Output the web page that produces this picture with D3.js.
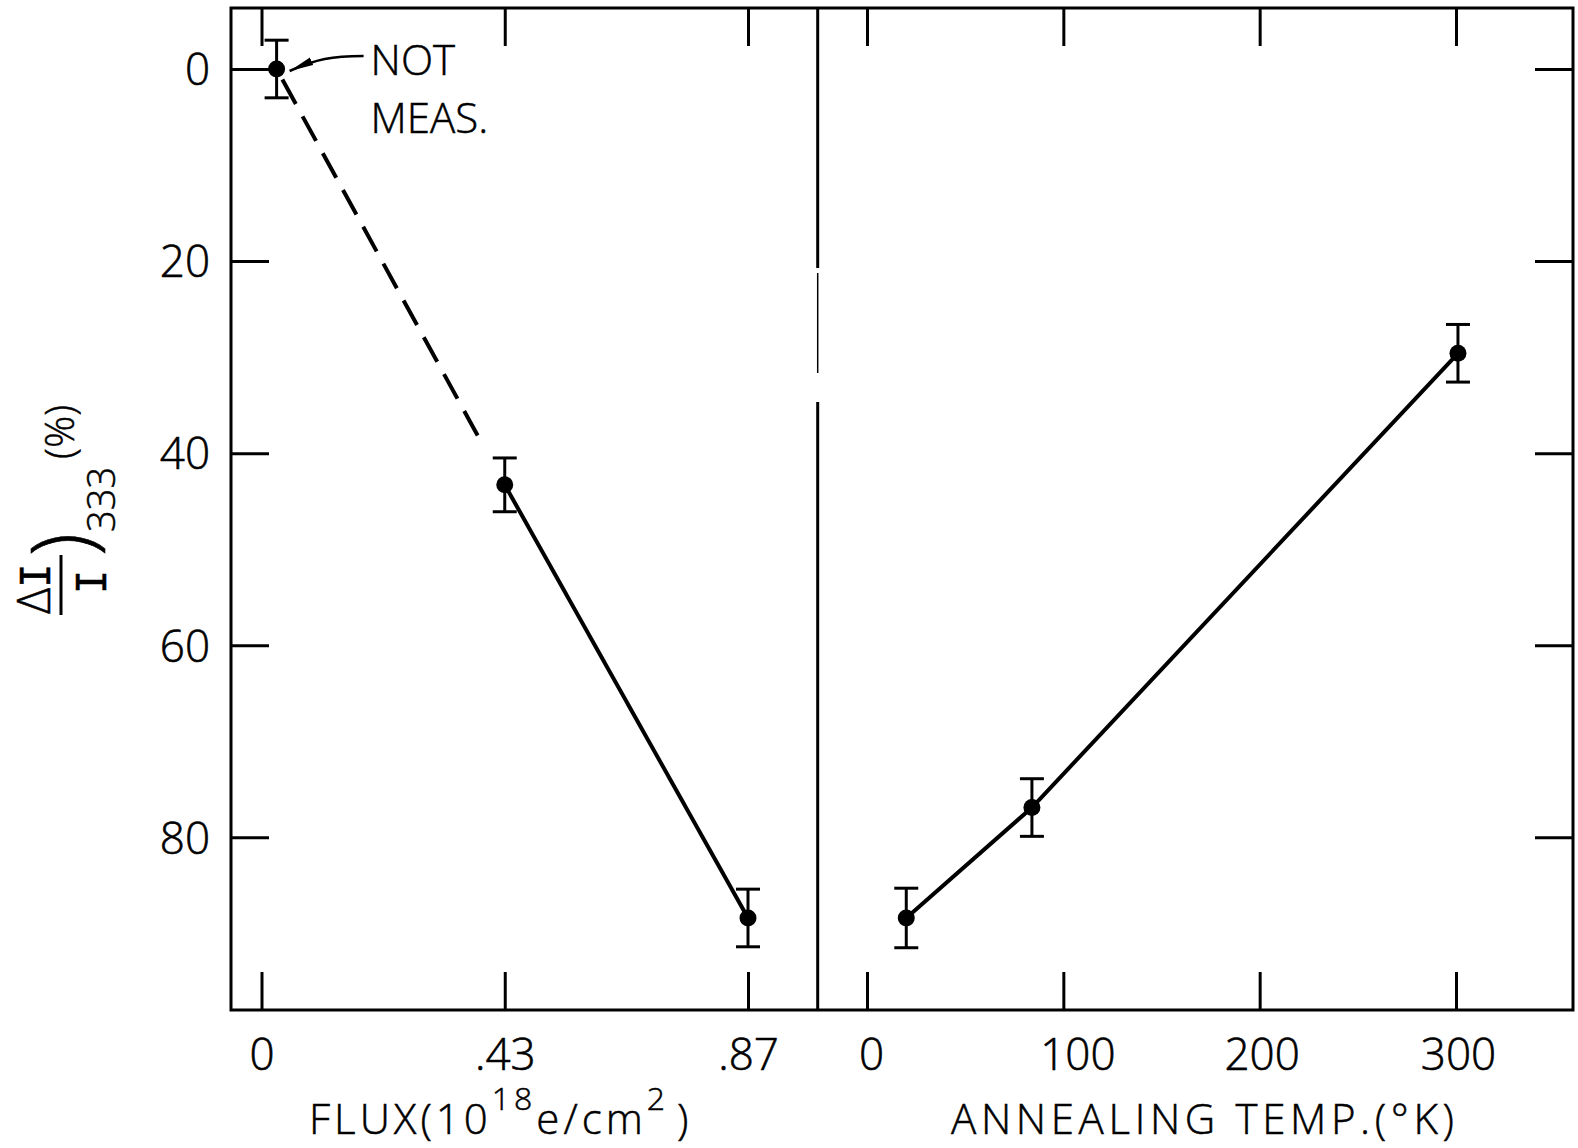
<!DOCTYPE html>
<html>
<head>
<meta charset="utf-8">
<script src="https://cdn.jsdelivr.net/npm/d3@7"></script>
<style>
  html, body { margin: 0; padding: 0; background: #fff; }
  svg { display: block; }
  text { font-family: "Open Sans", "DejaVu Sans", sans-serif; font-weight: 300; fill: #000; }
</style>
</head>
<body>
<svg id="chart" width="1578" height="1148"></svg>
<script>
// ---- data ----
const yTickValues = [0, 20, 40, 60, 80];
const fluxTickValues = [0, 0.435, 0.87];
const fluxTickLabels = ["0", ".43", ".87"];
const tempTickValues = [0, 100, 200, 300];
const tempTickLabels = ["0", "100", "200", "300"];

const fluxX = [0.027, 0.435, 0.87];
const fluxY = [0, 43.3, 88.4];
const fluxErr = [3, 2.8, 3];

const tempX = [20, 84, 301];
const tempY = [88.4, 76.9, 29.6];
const tempErr = [3.1, 3, 3];

// ---- layout ----
const svg = d3.select("#chart");
const frameLeft = 231, divider = 817.7, frameRight = 1573, frameTop = 8, frameBottom = 1010;
const tickLen = 38;

const y = d3.scaleLinear().domain([0, 80]).range([69, 837.3]);
const xFlux = d3.scaleLinear().domain([0, 0.87]).range([261.5, 748]);
const xTemp = d3.scaleLinear().domain([0, 300]).range([867, 1456]);

const ink = "#000";
const g = svg.append("g");

function styleAxis(sel) {
  sel.select(".domain").remove();
  sel.selectAll(".tick line").attr("stroke", ink).attr("stroke-width", 3);
  sel.selectAll(".tick text").style("font-size", "44px").attr("fill", ink)
    .attr("stroke", ink).attr("stroke-width", 0.6);
}

// left y axis
g.append("g").attr("transform", `translate(${frameLeft},0)`)
  .call(d3.axisLeft(y).tickValues(yTickValues).tickSize(-tickLen).tickPadding(21))
  .call(styleAxis)
  .selectAll(".tick text").attr("dy", "0.36em");

// right y axis (ticks only)
g.append("g").attr("transform", `translate(${frameRight},0)`)
  .call(d3.axisRight(y).tickValues(yTickValues).tickSize(-tickLen).tickFormat(""))
  .call(styleAxis);

// bottom axes
g.append("g").attr("transform", `translate(0,${frameBottom})`)
  .call(d3.axisBottom(xFlux).tickValues(fluxTickValues).tickSize(-tickLen).tickPadding(29)
    .tickFormat((d, i) => fluxTickLabels[i]))
  .call(styleAxis);
const tAx = g.append("g").attr("transform", `translate(0,${frameBottom})`)
  .call(d3.axisBottom(xTemp).tickValues(tempTickValues).tickSize(-tickLen).tickPadding(29)
    .tickFormat((d, i) => tempTickLabels[i]))
  .call(styleAxis);
tAx.selectAll(".tick text").attr("dx", d => d === 100 ? 14 : (d === 0 ? 4 : 2));

// top axes (ticks only)
g.append("g").attr("transform", `translate(0,${frameTop})`)
  .call(d3.axisTop(xFlux).tickValues(fluxTickValues).tickSize(-tickLen).tickFormat(""))
  .call(styleAxis);
g.append("g").attr("transform", `translate(0,${frameTop})`)
  .call(d3.axisTop(xTemp).tickValues(tempTickValues).tickSize(-tickLen).tickFormat(""))
  .call(styleAxis);

// frame
const frame = g.append("g").attr("stroke", ink).attr("stroke-width", 3).attr("fill", "none");
frame.append("rect").attr("x", frameLeft).attr("y", frameTop)
  .attr("width", frameRight - frameLeft).attr("height", frameBottom - frameTop);
// divider with scan gaps
frame.append("line").attr("x1", divider).attr("x2", divider).attr("y1", frameTop).attr("y2", 268);
frame.append("line").attr("x1", divider).attr("x2", divider).attr("y1", 273).attr("y2", 373).attr("stroke-width", 1.5);
frame.append("line").attr("x1", divider).attr("x2", divider).attr("y1", 402).attr("y2", frameBottom);

// ---- data marks ----
function drawSeries(xs, ys, errs, xScale, dashedFirst) {
  const pts = xs.map((v, i) => ({ x: xScale(v), y: y(ys[i]) }));
  const line = d3.line().x(d => d.x).y(d => d.y);
  if (dashedFirst) {
    const a = pts[0], b = pts[1], t = 0.9;
    const end = { x: a.x + (b.x - a.x) * t, y: a.y + (b.y - a.y) * t };
    g.append("path").attr("d", line([a, end])).attr("stroke", ink).attr("stroke-width", 4)
      .attr("fill", "none").attr("stroke-dasharray", "28,14").attr("stroke-dashoffset", -12);
    g.append("path").attr("d", line(pts.slice(1))).attr("stroke", ink).attr("stroke-width", 4).attr("fill", "none");
  } else {
    g.append("path").attr("d", line(pts)).attr("stroke", ink).attr("stroke-width", 4).attr("fill", "none");
  }
  const eb = g.append("g").attr("stroke", ink).attr("stroke-width", 3);
  pts.forEach((p, i) => {
    const y1 = y(ys[i] - errs[i]), y2 = y(ys[i] + errs[i]);
    eb.append("line").attr("x1", p.x).attr("x2", p.x).attr("y1", y1).attr("y2", y2);
    eb.append("line").attr("x1", p.x - 12).attr("x2", p.x + 12).attr("y1", y1).attr("y2", y1);
    eb.append("line").attr("x1", p.x - 12).attr("x2", p.x + 12).attr("y1", y2).attr("y2", y2);
  });
  g.append("g").selectAll("circle").data(pts).join("circle")
    .attr("cx", d => d.x).attr("cy", d => d.y).attr("r", 8.5).attr("fill", ink);
  return pts;
}
const fluxPts = drawSeries(fluxX, fluxY, fluxErr, xFlux, true);
drawSeries(tempX, tempY, tempErr, xTemp, false);

// ---- annotation NOT MEAS. ----
const p0 = fluxPts[0];
svg.append("defs").append("marker").attr("id", "arr").attr("viewBox", "0 0 24 10")
  .attr("refX", 24).attr("refY", 5).attr("markerWidth", 24).attr("markerHeight", 10)
  .attr("markerUnits", "userSpaceOnUse").attr("orient", "auto")
  .append("path").attr("d", "M0,1 L24,5 L0,9 Z").attr("fill", ink);
g.append("path")
  .attr("d", `M${p0.x + 87},${p0.y - 13} C${p0.x + 55},${p0.y - 13} ${p0.x + 40},${p0.y - 10} ${p0.x + 13},${p0.y + 2}`)
  .attr("stroke", ink).attr("stroke-width", 2.5).attr("fill", "none").attr("marker-end", "url(#arr)");
g.append("text").attr("x", p0.x + 94).attr("y", p0.y + 6).style("font-size", "42px")
  .attr("stroke", ink).attr("stroke-width", 0.5).text("NOT");
g.append("text").attr("x", p0.x + 94).attr("y", p0.y + 64).style("font-size", "42px")
  .attr("stroke", ink).attr("stroke-width", 0.5).text("MEAS.");

// ---- axis titles ----
const ft = g.append("text").attr("x", 309).attr("y", 1134).style("font-size", "42px")
  .attr("letter-spacing", "4").attr("stroke", ink).attr("stroke-width", 0.5);
ft.append("tspan").text("FLUX(10");
ft.append("tspan").attr("dy", -24).style("font-size", "32px").text("18");
ft.append("tspan").attr("dy", 24).text("e/cm");
ft.append("tspan").attr("dy", -24).style("font-size", "32px").text("2");
ft.append("tspan").attr("dy", 24).attr("dx", 8).text(")");

g.append("text").attr("x", 951).attr("y", 1134).style("font-size", "42px")
  .attr("stroke", ink).attr("stroke-width", 0.5)
  .attr("textLength", 503).attr("lengthAdjust", "spacing").text("ANNEALING TEMP.(°K)");

// ---- y axis title (rotated) ----
const yl = g.append("g").attr("transform", "rotate(-90)");
const ylt = yl.append("text").attr("x", -614).attr("y", 50).style("font-size", "46px")
  .attr("stroke", ink).attr("stroke-width", 0.5);
ylt.append("tspan").text("Δ");
ylt.append("tspan").style("font-family", "'DejaVu Sans Mono', monospace").style("font-size", "40px").text("I");
yl.append("line").attr("x1", -615).attr("x2", -555).attr("y1", 61).attr("y2", 61)
  .attr("stroke", ink).attr("stroke-width", 3);
yl.append("text").attr("x", -582).attr("y", 106).attr("text-anchor", "middle")
  .style("font-family", "'DejaVu Sans Mono', monospace").style("font-size", "40px")
  .attr("stroke", ink).attr("stroke-width", 0.5).text("I");
yl.append("text").attr("x", -556).attr("y", 92).style("font-size", "84px")
  .attr("stroke", ink).attr("stroke-width", 0.6).text(")");
yl.append("text").attr("x", -532).attr("y", 115).style("font-size", "38px")
  .attr("stroke", ink).attr("stroke-width", 0.5).text("333");
yl.append("text").attr("x", -459).attr("y", 74).style("font-size", "40px")
  .attr("stroke", ink).attr("stroke-width", 0.5).text("(%)");
</script>
</body>
</html>
